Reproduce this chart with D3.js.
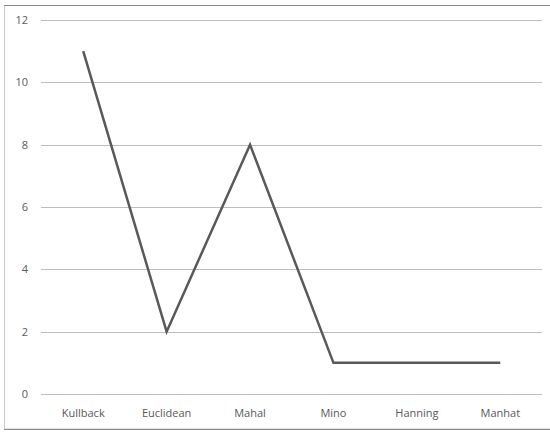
<!DOCTYPE html>
<html><head><meta charset="utf-8">
<script src="https://cdn.jsdelivr.net/npm/d3@7"></script>
<style>body{margin:0;background:#fff;font-family:"Open Sans","Noto Sans",sans-serif;}</style>
</head><body><svg id="c" width="550" height="436"></svg>
<script>
const categories = ["Kullback","Euclidean","Mahal","Mino","Hanning","Manhat"];
const values = [11, 2, 8, 1, 1, 1];
const yTicks = [0,2,4,6,8,10,12];

const svg = d3.select("#c");
// outer frame
svg.append("rect").attr("x",4.5).attr("y",5.5).attr("width",546).attr("height",423.5)
  .attr("fill","none").attr("stroke","#c8c8c8").attr("stroke-width",1);
svg.append("line").attr("x1",4).attr("x2",550).attr("y1",5.5).attr("y2",5.5).attr("stroke","#8a8a8a");
svg.append("line").attr("x1",4).attr("x2",550).attr("y1",429.5).attr("y2",429.5).attr("stroke","#8a8a8a");

const x = d3.scaleBand().domain(categories).range([41.5,542]);
const y = d3.scaleLinear().domain([0,12]).range([394,20]);

const g = svg.append("g");
g.selectAll("line.grid").data(yTicks).enter().append("line")
  .attr("x1",41).attr("x2",542)
  .attr("y1",d=>Math.round(y(d))+0.5).attr("y2",d=>Math.round(y(d))+0.5)
  .attr("stroke","#bdbdbd").attr("stroke-width",1);

g.selectAll("text.yl").data(yTicks).enter().append("text")
  .attr("x",28).attr("y",d=>y(d)+4).attr("text-anchor","end")
  .attr("font-size",11).attr("fill","#595959").text(d=>d);

g.selectAll("text.xl").data(categories).enter().append("text")
  .attr("x",d=>x(d)+x.bandwidth()/2).attr("y",417).attr("text-anchor","middle")
  .attr("font-size",11).attr("fill","#595959").text(d=>d);

const line = d3.line().x((d,i)=>x(categories[i])+x.bandwidth()/2).y(d=>y(d));
g.append("path").datum(values).attr("d",line).attr("fill","none")
  .attr("stroke","#595959").attr("stroke-width",2.5).attr("stroke-linejoin","miter");
</script></body></html>
